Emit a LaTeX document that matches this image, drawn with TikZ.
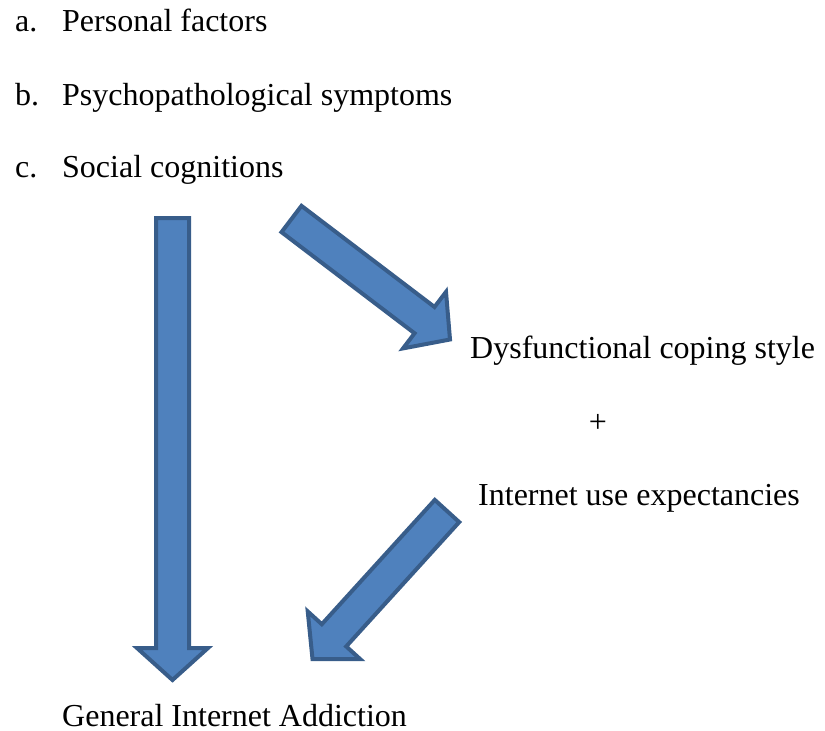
\documentclass[tikz,border=0pt]{standalone}
\usepackage{fontspec}
\setmainfont{Liberation Serif}
\usetikzlibrary{calc}
\definecolor{arrowfill}{HTML}{4F81BD}
\definecolor{arrowline}{HTML}{385D8A}
\tikzset{
  lbl/.style={inner sep=0pt, anchor=base west, font=\fontsize{32}{38}\selectfont},
  blockarrow/.style={fill=arrowfill, draw=arrowline, line width=4pt, line join=miter},
}
% #1 tail coordinate, #2 tip coordinate
\newcommand\blockarr[2]{%
  \coordinate (#1-j) at ($(#2)!32pt!(#1)$);
  \draw[blockarrow]
    ($(#1)!16.5pt!90:(#2)$) --
    ($(#1-j)!16.5pt!90:(#2)$) --
    ($(#1-j)!35.5pt!90:(#2)$) --
    (#2) --
    ($(#1-j)!35.5pt!-90:(#2)$) --
    ($(#1-j)!16.5pt!-90:(#2)$) --
    ($(#1)!16.5pt!-90:(#2)$) -- cycle;
}
\begin{document}
\begin{tikzpicture}[x=1pt,y=-1pt]
\useasboundingbox (0,0) rectangle (825,731);
% list
\node[lbl] (la) at (15,31) {a.};
\node[lbl] (ta) at (62,31) {Personal factors};
\node[lbl] (lb) at (15,105) {b.};
\node[lbl] (tb) at (62,105) {Psychopathological symptoms};
\node[lbl] (lc) at (15,177.5) {c.};
\node[lbl] (tc) at (62,177.5) {Social cognitions};
% right texts
\node[lbl] (dys) at (470,358) {Dysfunctional coping style};
\node[inner sep=0pt, font=\fontsize{32}{38}\selectfont] (plus) at (598,423) {+};
\node[lbl] (iue) at (478,505) {Internet use expectancies};
\node[lbl] (gia) at (62,726) {General Internet Addiction};
% arrows
\coordinate (d1) at (172.5,218);
\coordinate (d1tip) at (172.5,680);
\blockarr{d1}{d1tip}
\coordinate (a1) at (291.5,219);
\coordinate (a1tip) at (450,339.5);
\blockarr{a1}{a1tip}
\coordinate (a2) at (447,511);
\coordinate (a2tip) at (312.5,659);
\blockarr{a2}{a2tip}
\end{tikzpicture}
\end{document}
